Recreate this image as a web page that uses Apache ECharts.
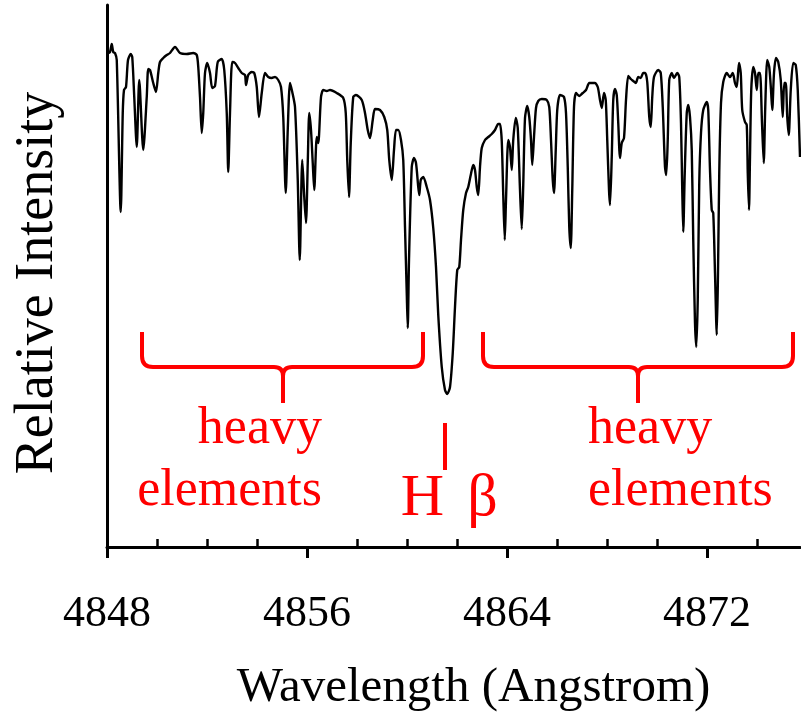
<!DOCTYPE html>
<html><head><meta charset="utf-8">
<script src="https://cdn.jsdelivr.net/npm/echarts@6/dist/echarts.min.js"></script>
<style>html,body{margin:0;padding:0;background:#fff}#c{width:801px;height:717px}</style>
</head><body><div id="c"></div>
<script>
// Wavelength (Angstrom)
const wavelength = [
4848.05,4848.12,4848.19,4848.25,4848.32,4848.39,4848.55,4848.63,4848.68,4848.76,
4848.84,4848.95,4849.01,4849.09,4849.19,4849.29,4849.45,4849.59,4849.65,4849.72,
4849.85,4849.96,4850.05,4850.12,4850.25,4850.39,4850.52,4850.72,4850.92,4851.19,
4851.45,4851.59,4851.65,4851.72,4851.79,4851.85,4851.92,4852.01,4852.12,4852.21,
4852.32,4852.43,4852.59,4852.69,4852.79,4852.85,4852.92,4853.01,4853.12,4853.25,
4853.39,4853.52,4853.56,4853.65,4853.79,4853.89,4853.99,4854.08,4854.19,4854.32,
4854.45,4854.59,4854.72,4854.85,4854.96,4855.05,4855.15,4855.23,4855.32,4855.41,
4855.52,4855.63,4855.71,4855.81,4855.89,4855.96,4856.03,4856.09,4856.16,4856.23,
4856.29,4856.39,4856.45,4856.56,4856.65,4856.79,4856.92,4857.19,4857.45,4857.55,
4857.61,4857.68,4857.75,4857.85,4857.96,4858.19,4858.32,4858.43,4858.52,4858.63,
4858.72,4858.92,4859.09,4859.21,4859.29,4859.39,4859.48,4859.56,4859.65,4859.76,
4859.85,4859.92,4859.99,4860.03,4860.08,4860.19,4860.28,4860.36,4860.45,4860.49,
4860.55,4860.65,4860.79,4860.92,4861.05,4861.16,4861.25,4861.39,4861.52,4861.61,
4861.72,4861.83,4861.92,4862.01,4862.09,4862.16,4862.25,4862.36,4862.45,4862.55,
4862.65,4862.72,4862.79,4862.85,4862.92,4862.99,4863.12,4863.25,4863.39,4863.52,
4863.65,4863.72,4863.79,4863.85,4863.91,4863.96,4864.05,4864.12,4864.19,4864.25,
4864.35,4864.43,4864.52,4864.59,4864.65,4864.72,4864.81,4864.89,4864.96,4865.01,
4865.08,4865.16,4865.25,4865.39,4865.59,4865.69,4865.76,4865.83,4865.88,4865.95,
4866.01,4866.12,4866.28,4866.36,4866.43,4866.49,4866.55,4866.61,4866.68,4866.76,
4866.89,4867.03,4867.16,4867.29,4867.39,4867.52,4867.63,4867.72,4867.79,4867.88,
4867.95,4868.01,4868.08,4868.12,4868.19,4868.25,4868.32,4868.39,4868.45,4868.52,
4868.59,4868.68,4868.76,4868.85,4868.95,4869.05,4869.15,4869.25,4869.35,4869.45,
4869.53,4869.61,4869.69,4869.75,4869.81,4869.88,4870.05,4870.15,4870.23,4870.32,
4870.37,4870.43,4870.49,4870.59,4870.68,4870.81,4870.89,4870.96,4871.01,4871.05,
4871.11,4871.19,4871.25,4871.32,4871.39,4871.45,4871.52,4871.57,4871.63,4871.69,
4871.76,4871.85,4871.99,4872.05,4872.12,4872.19,4872.25,4872.32,4872.39,4872.44,
4872.49,4872.56,4872.65,4872.79,4872.92,4873.03,4873.12,4873.19,4873.28,4873.35,
4873.41,4873.52,4873.59,4873.63,4873.68,4873.72,4873.77,4873.85,4873.92,4873.99,
4874.05,4874.12,4874.20,4874.27,4874.33,4874.41,4874.49,4874.56,4874.61,4874.68,
4874.76,4874.85,4874.95,4875.03,4875.09,4875.15,4875.21,4875.27,4875.35,4875.45,
4875.55,4875.63,4875.72
];
// Relative intensity (continuum ~ 1)
const intensity = [
.988,.990,1.006,.990,.988,.974,.670,.868,.914,.920,
.974,.986,.980,.900,.800,.934,.794,.900,.956,.954,
.928,.910,.948,.970,.978,.984,.988,1.000,.988,.986,
.988,.984,.960,.900,.828,.868,.948,.968,.948,.918,
.922,.970,.976,.954,.868,.750,.868,.970,.968,.958,
.948,.944,.924,.944,.950,.948,.920,.860,.908,.948,
.940,.938,.940,.934,.920,.860,.708,.834,.928,.910,
.880,.734,.574,.774,.700,.648,.768,.868,.834,.768,
.714,.820,.808,.900,.914,.912,.914,.908,.898,.868,
.774,.700,.808,.900,.904,.894,.868,.834,.818,.854,
.876,.874,.860,.834,.774,.734,.794,.834,.834,.814,
.774,.640,.508,.438,.574,.760,.778,.768,.720,.704,
.734,.740,.720,.694,.638,.560,.464,.360,.314,.306,
.320,.388,.480,.554,.560,.614,.674,.708,.720,.744,
.764,.754,.720,.704,.760,.798,.814,.820,.826,.834,
.846,.846,.812,.704,.614,.694,.814,.800,.754,.814,
.858,.838,.714,.636,.724,.858,.882,.860,.814,.764,
.820,.878,.892,.896,.894,.880,.814,.734,.708,.794,
.874,.904,.900,.868,.760,.640,.598,.714,.880,.908,
.902,.908,.914,.928,.928,.928,.920,.894,.878,.908,
.894,.814,.714,.684,.780,.894,.916,.904,.848,.778,
.808,.818,.894,.942,.936,.932,.928,.940,.938,.948,
.948,.930,.860,.840,.900,.940,.954,.948,.880,.760,
.744,.814,.934,.948,.938,.948,.940,.848,.714,.630,
.748,.868,.884,.860,.794,.614,.448,.400,.494,.728,
.828,.874,.890,.874,.754,.674,.668,.548,.424,.548,
.748,.888,.930,.948,.940,.948,.928,.920,.968,.948,
.874,.850,.844,.748,.674,.780,.914,.960,.948,.914,
.948,.948,.848,.768,.880,.974,.960,.914,.874,.948,
.978,.970,.934,.860,.928,.928,.860,.824,.914,.968,
.964,.914,.780
];
const majorTicks = [4848, 4856, 4864, 4872];
const minorTicks = [4850, 4852, 4854, 4858, 4860, 4862, 4866, 4868, 4870, 4874];
const xMin = 4848, xMax = 4875.72, yMin = 0, yMax = 1.084;

// annotation anchors (data units)
const braceSpans = [[4849.4, 4855.04, 4860.64], [4863.04, 4869.24, 4875.44]];
const braceLevels = [0.430, 0.360, 0.288]; // top of ends, bar, tip
const hbetaMark = [4861.52, 0.248, 0.154];
const noteTexts = ['heavy', 'elements', 'heavy', 'elements', 'H', 'β'];
const noteX = [4856.6, 4856.6, 4867.24, 4867.24, 4860.62, 4863.02];
const noteY = [0.236, 0.112, 0.236, 0.112, 0.096, 0.096];

const FONT = '"Liberation Serif", "Times New Roman", serif';
const chart = echarts.init(document.getElementById('c'), null, {renderer: 'canvas'});
chart.setOption({
  animation: false,
  backgroundColor: '#fff',
  grid: {left: 107, right: 1, top: 5, bottom: 170, containLabel: false, outerBoundsMode: 'none'},
  xAxis: [{
    type: 'value', min: xMin, max: xMax, interval: 8,
    name: 'Wavelength (Angstrom)', nameLocation: 'middle', nameGap: 117,
    nameTextStyle: {fontFamily: FONT, fontSize: 49, color: '#000', padding: [0, 0, 0, 40]},
    axisLine: {show: true, onZero: false, lineStyle: {color: '#000', width: 3}},
    axisTick: {show: true, inside: false, length: 11, lineStyle: {color: '#000', width: 3}, customValues: majorTicks},
    axisLabel: {show: true, fontFamily: FONT, fontSize: 44, color: '#000', margin: 45, customValues: majorTicks,
                formatter: v => String(v)},
    splitLine: {show: false}
  }, {
    type: 'value', min: xMin, max: xMax, position: 'bottom', gridIndex: 0,
    axisLine: {show: false},
    axisTick: {show: true, inside: true, length: 8, lineStyle: {color: '#000', width: 2.5}, customValues: minorTicks},
    axisLabel: {show: false},
    splitLine: {show: false}
  }],
  yAxis: {
    type: 'value', min: yMin, max: yMax,
    name: 'Relative Intensity', nameLocation: 'middle', nameGap: 42,
    nameTextStyle: {fontFamily: FONT, fontSize: 54, color: '#000', padding: [0, 14, 0, 0]},
    axisLine: {show: true, onZero: false, lineStyle: {color: '#000', width: 3}},
    axisTick: {show: false}, axisLabel: {show: false}, splitLine: {show: false}
  },
  series: [{
    type: 'line', xAxisIndex: 0,
    data: wavelength.map((w, i) => [w, intensity[i]]),
    showSymbol: false, smooth: 0.25,
    lineStyle: {color: '#000', width: 2.4}
  }]
});

function px(x, y) { return chart.convertToPixel({gridIndex: 0}, [x, y]); }
const RED = '#ff0000';
const redStroke = {stroke: RED, lineWidth: 4, fill: null};
const graphics = [];
function seg(p, q) { graphics.push({type: 'line', shape: {x1: p[0], y1: p[1], x2: q[0], y2: q[1]}, style: redStroke}); }
function curve(p, c, q) { graphics.push({type: 'bezierCurve', shape: {x1: p[0], y1: p[1], cpx1: c[0], cpy1: c[1], x2: q[0], y2: q[1]}, style: redStroke}); }
braceSpans.forEach(([x0, xm, x1]) => {
  const [yT, yB, yP] = braceLevels;
  const a = px(x0, yT), b = px(x0, yB), m = px(xm, yB), t = px(xm, yP), c = px(x1, yB), d = px(x1, yT);
  const r = 11, rm = 9;
  seg(a, [b[0], b[1] - r]);
  curve([b[0], b[1] - r], b, [b[0] + r, b[1]]);
  seg([b[0] + r, b[1]], [m[0] - rm, m[1]]);
  curve([m[0] - rm, m[1]], m, [m[0], m[1] + rm]);
  curve([m[0] + rm, m[1]], m, [m[0], m[1] + rm]);
  seg([m[0], m[1] + rm], t);
  seg([m[0] + rm, m[1]], [c[0] - r, c[1]]);
  curve([c[0] - r, c[1]], c, [c[0], c[1] - r]);
  seg([c[0], c[1] - r], d);
});
seg(px(hbetaMark[0], hbetaMark[1]), px(hbetaMark[0], hbetaMark[2]));
noteTexts.forEach((txt, i) => {
  const p = px(noteX[i], noteY[i]);
  const isH = i >= 4;
  graphics.push({
    type: 'text', x: p[0], y: p[1],
    style: {
      text: txt, fill: RED, fontFamily: FONT, fontSize: isH ? 60 : 52,
      align: isH ? 'center' : (i < 2 ? 'right' : 'left'), verticalAlign: 'middle'
    }
  });
});
chart.setOption({graphic: graphics});
</script>
</body></html>
